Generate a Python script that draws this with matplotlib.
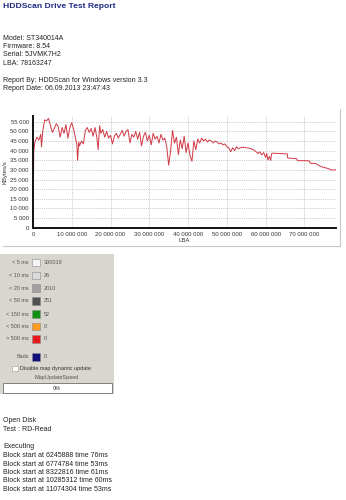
import matplotlib
matplotlib.use("Agg")
import matplotlib.pyplot as plt
from matplotlib.patches import Rectangle
from matplotlib.lines import Line2D
from matplotlib.ticker import FuncFormatter, MultipleLocator

plt.rcParams['font.family'] = ['Liberation Sans', 'DejaVu Sans']

# ---------------- data ----------------
title = "HDDScan Drive Test Report"
info_lines = ["Model: ST340014A", "Firmware: 8.54", "Serial: 5JVMK7H2", "LBA: 78163247"]
report_lines = ["Report By: HDDScan for Windows version 3.3", "Report Date: 06.09.2013 23:47:43"]

lba_millions = [0, 0.2, 0.5, 1.0, 1.5, 2.0, 2.2, 2.5, 3.0, 3.5, 4.0, 4.5, 5.0, 5.5, 6.0, 6.5,
                7.0, 7.5, 8.0, 8.5, 9.0, 9.5, 10.0, 10.5, 11.0, 11.3, 11.5, 11.8, 12.0, 12.5,
                13.0, 13.5, 14.0, 14.5, 15.0, 15.5, 16.0, 16.5, 16.8, 17.2, 17.5, 18.0, 18.5,
                19.0, 19.5, 20.0, 20.5, 21.0, 21.5, 22.0, 22.5, 23.0, 23.5, 24.0, 24.5, 25.0,
                25.5, 26.0, 26.5, 27.0, 27.5, 28.0, 28.5, 29.0, 29.5, 30.0, 30.5, 31.0, 31.5,
                32.0, 32.5, 33.0, 33.5, 34.0, 34.5, 35.0, 35.5, 36.0, 36.5, 37.0, 37.5, 38.0,
                38.5, 39.0, 39.5, 40.0, 40.5, 41.0, 41.5, 42.0, 42.5, 43.0, 43.5, 44.0, 44.5,
                45.0, 45.5, 46.0, 46.5, 47.0, 47.5, 48.0, 48.5, 49.0, 49.5, 50.0, 50.5, 51.0,
                51.5, 52.0, 52.5, 53.0, 53.5, 54.0, 55.0, 56.0, 57.0, 57.5, 58.0, 58.5, 59.0,
                59.5, 60.0, 60.3, 60.6, 61.0, 61.3, 61.6, 62.0, 63.0, 64.0, 65.0, 65.6, 65.7,
                67.0, 68.0, 68.3, 70.0, 71.3, 71.5, 73.0, 74.0, 75.0, 76.0, 77.0, 78.163247]
speed_kbs = [0, 40000, 44500, 47000, 45500, 48500, 42000, 50000, 56000, 55500, 56800, 53000,
             49500, 51500, 54000, 52500, 47000, 52000, 49000, 53500, 46500, 52000, 54500, 51000,
             46000, 43500, 35000, 44500, 42500, 45000, 43500, 50500, 52000, 49500, 51500, 47500,
             52000, 46500, 40500, 53000, 49000, 51000, 47000, 50000, 46500, 48000, 43500, 47500,
             49000, 46500, 48500, 50500, 47500, 50000, 51000, 44000, 48500, 47000, 50000, 46000,
             49500, 42500, 47500, 49500, 45000, 48000, 43000, 49000, 46000, 47500, 44000, 48500,
             45500, 46500, 42000, 32500, 40000, 50500, 44000, 47000, 38000, 45500, 41000, 47500,
             39000, 44000, 37500, 34500, 45000, 40500, 46000, 44000, 46500, 45000, 46000, 44500,
             45500, 45000, 44000, 45000, 44500, 43500, 44000, 43000, 43500, 42000, 41500, 39500,
             41500, 40000, 42000, 41000, 41500, 41800, 41500, 41200, 40300, 39500, 38500, 39400,
             37800, 39000, 36500, 38500, 35200, 37000, 35000, 38600, 38700, 38600, 38500, 38400,
             38300, 36200, 36000, 35800, 34800, 34800, 34700, 33500, 33300, 32000, 31300, 30800,
             30000, 30000]

legend_labels = ["< 5 ms", "< 10 ms", "< 20 ms", "< 50 ms", "< 150 ms", "< 500 ms", "> 500 ms", "Bads"]
legend_counts = ["300019", "26", "2010", "251", "52", "0", "0", "0"]
legend_colors = ["#f4f4f4", "#dcdcdc", "#a0a0a0", "#505050", "#119011", "#ff9a20", "#e81818", "#10107a"]

log_lines = ["Open Disk", "Test : RD-Read", "", "Executing",
             "Block start at 6245888 time 76ms",
             "Block start at 6774784 time 53ms",
             "Block start at 8322816 time 61ms",
             "Block start at 10285312 time 60ms",
             "Block start at 11074304 time 53ms"]

# ---------------- figure ----------------
W, H = 346, 500
fig = plt.figure(figsize=(W / 100, H / 100), dpi=100)
fig.patch.set_facecolor("white")

def fx(px):
    return px / W

def fy(py):
    return 1 - py / H

txt_color = "#222222"
body_fs = 5.0

fig.text(fx(3), fy(7), title, fontsize=6.1, fontweight="bold", color="#1c2a80", va="center", ha="left")
for i, s in enumerate(info_lines):
    fig.text(fx(3), fy(38 + i * 8.4), s, fontsize=body_fs, color=txt_color, va="center")
for i, s in enumerate(report_lines):
    fig.text(fx(3), fy(80 + i * 8.4), s, fontsize=body_fs, color=txt_color, va="center")

# chart frame (shadow lines)
fig.add_artist(Line2D([fx(3), fx(340)], [fy(245.5), fy(245.5)], color="#c8c8c8", lw=0.8))
fig.add_artist(Line2D([fx(340), fx(340)], [fy(109), fy(245.5)], color="#c8c8c8", lw=0.8))

# ---------------- chart ----------------
ax_left, ax_right, ax_top, ax_bot = 33, 336, 116, 227.7
ax = fig.add_axes([fx(ax_left), fy(ax_bot), (ax_right - ax_left) / W, (ax_bot - ax_top) / H])
x_vals = [v * 1_000_000 for v in lba_millions]
ax.plot(x_vals, speed_kbs, color="#d03844", lw=0.7)
ax.set_xlim(0, 78163247)
ax.set_ylim(0, 58000)
ax.xaxis.set_major_locator(MultipleLocator(10_000_000))
ax.yaxis.set_major_locator(MultipleLocator(5000))
fmt = FuncFormatter(lambda v, p: f"{int(round(v)):,}".replace(",", " "))
ax.xaxis.set_major_formatter(fmt)
ax.yaxis.set_major_formatter(fmt)
ax.grid(True, color="#b8b8b8", linestyle=(0, (1.5, 1.5)), lw=0.5)
for s in ["top", "right"]:
    ax.spines[s].set_visible(False)
for s in ["left", "bottom"]:
    ax.spines[s].set_linewidth(1.4)
    ax.spines[s].set_color("#111111")
ax.tick_params(length=0, labelsize=4.3, labelcolor="#333333", pad=3)
ax.set_xlabel("LBA", fontsize=4.3, color="#333333", labelpad=0.5)
ax.set_ylabel("KBytes/s", fontsize=4.3, color="#333333", labelpad=2)

# ---------------- legend panel ----------------
fig.add_artist(Rectangle((fx(0), fy(394)), fx(114), (394 - 254) / H, facecolor="#d9d6cf",
                         edgecolor="none", transform=fig.transFigure))
row_y = [262.5, 275.5, 288, 301, 314, 326.5, 339, 357]
small_fs = 4.0
for lab, cnt, col, yy in zip(legend_labels, legend_counts, legend_colors, row_y):
    fig.text(fx(29), fy(yy), lab, fontsize=small_fs, color="#555555", ha="right", va="center")
    fig.add_artist(Rectangle((fx(32), fy(yy + 3.8)), fx(8), 7.6 / H, facecolor=col,
                             edgecolor="#8a8a8a", lw=0.4, transform=fig.transFigure))
    fig.text(fx(44), fy(yy), cnt, fontsize=small_fs, color="#555555", ha="left", va="center")

fig.add_artist(Rectangle((fx(12), fy(371)), fx(5.5), 5.5 / H, facecolor="white",
                         edgecolor="#9a9a9a", lw=0.4, transform=fig.transFigure))
fig.text(fx(20), fy(368.5), "Disable map dynamic update", fontsize=small_fs, color="#333333", va="center")
fig.text(fx(57), fy(377.5), "MapUpdateSpeed", fontsize=small_fs, color="#555555", ha="center", va="center")
fig.add_artist(Rectangle((fx(3), fy(392.5)), fx(109), 9.5 / H, facecolor="white",
                         edgecolor="#555555", lw=0.5, transform=fig.transFigure))
fig.text(fx(57), fy(388), "0%", fontsize=small_fs, color="#333333", ha="center", va="center")

# ---------------- log text ----------------
log_y = [421, 429.5, None, 447, 455.5, 464, 472.5, 481, 489.5]
for s, yy in zip(log_lines, log_y):
    if s and yy is not None:
        fig.text(fx(3), fy(yy), s, fontsize=body_fs, color=txt_color, va="center")

fig.savefig("out.png", dpi=100)
